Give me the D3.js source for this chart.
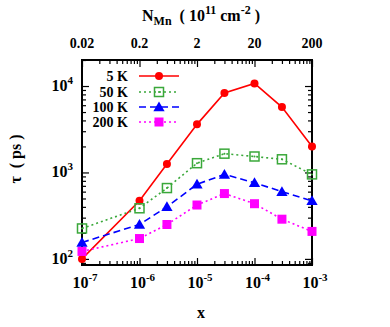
<!DOCTYPE html>
<html>
<head>
<meta charset="utf-8">
<script src="https://cdn.jsdelivr.net/npm/d3@7"></script>
<style>
  body { margin: 0; background: #fff; }
  text { font-family: "Liberation Serif", "DejaVu Serif", serif; font-weight: bold; }
</style>
</head>
<body>
<div class="chart"></div>
<script>
// data
var xValues = [1e-7, 1e-6, 3e-6, 1e-5, 3e-5, 1e-4, 3e-4, 1e-3];
var tau5K   = [100, 470, 1250, 3600, 8300, 10700, 5700, 2000];
var tau50K  = [225, 385, 660, 1280, 1650, 1530, 1420, 950];
var tau100K = [155, 250, 400, 730, 950, 760, 600, 470];
var tau200K = [122, 172, 250, 420, 570, 435, 288, 208];
var seriesNames = ["5 K", "50 K", "100 K", "200 K"];
var bottomTickExps = [-7, -6, -5, -4, -3];
var topTickLabels = ["0.02", "0.2", "2", "20", "200"];
var leftTickExps = [2, 3, 4];

var svgWidth = 390, svgHeight = 327;
var margin = { top: 60, right: 78, bottom: 62, left: 82 };
var width = svgWidth - margin.left - margin.right;
var height = svgHeight - margin.top - margin.bottom;

var svg = d3.select(".chart").append("svg")
  .attr("width", svgWidth)
  .attr("height", svgHeight);

var chartGroup = svg.append("g")
  .attr("transform", `translate(${margin.left}, ${margin.top})`);

var xScale = d3.scaleLog().domain([1e-7, 1e-3]).range([0, width]);
var yScale = d3.scaleLog().domain([85, 20000]).range([height, 0]);

// minor/major tick positions
var xMinor = [], yMinor = [];
for (var e = -7; e < -3; e++) for (var m = 2; m <= 9; m++) xMinor.push(m * Math.pow(10, e));
for (var e2 = 1; e2 <= 4; e2++) for (var m2 = 2; m2 <= 9; m2++) {
  var v = m2 * Math.pow(10, e2);
  if (v >= 85 && v <= 20000) yMinor.push(v);
}
var xMajor = bottomTickExps.map(d => Math.pow(10, d));
var yMajor = leftTickExps.map(d => Math.pow(10, d));

function tickAxis(axisFn, scale, values, size) {
  return axisFn(scale).tickValues(values).tickSize(size).tickSizeOuter(0).tickFormat("");
}

// bottom + top
[[d3.axisTop, height], [d3.axisBottom, 0]].forEach(function(a) {
  chartGroup.append("g").attr("class", "ticks")
    .attr("transform", `translate(0, ${a[1]})`)
    .call(tickAxis(a[0], xScale, xMajor, 7));
  chartGroup.append("g").attr("class", "ticks")
    .attr("transform", `translate(0, ${a[1]})`)
    .call(tickAxis(a[0], xScale, xMinor, 4));
});
// left + right
[[d3.axisRight, 0], [d3.axisLeft, width]].forEach(function(a) {
  chartGroup.append("g").attr("class", "ticks")
    .attr("transform", `translate(${a[1]}, 0)`)
    .call(tickAxis(a[0], yScale, yMajor, 7));
  chartGroup.append("g").attr("class", "ticks")
    .attr("transform", `translate(${a[1]}, 0)`)
    .call(tickAxis(a[0], yScale, yMinor, 4));
});
chartGroup.selectAll(".ticks .domain").remove();
chartGroup.selectAll(".ticks line").attr("stroke", "#000").attr("stroke-width", 1.2);

// frame
chartGroup.append("rect")
  .attr("width", width).attr("height", height)
  .attr("fill", "none").attr("stroke", "#000").attr("stroke-width", 2);

// bottom tick labels 10^n
bottomTickExps.forEach(function(ex) {
  var t = chartGroup.append("text")
    .attr("x", xScale(Math.pow(10, ex)) + 3)
    .attr("y", height + 23)
    .attr("text-anchor", "middle")
    .style("font-size", "16px");
  t.append("tspan").text("10");
  t.append("tspan").attr("dy", -7).style("font-size", "11px").text(ex);
});

// left tick labels
leftTickExps.forEach(function(ex) {
  var t = chartGroup.append("text")
    .attr("x", -9)
    .attr("y", yScale(Math.pow(10, ex)) + 5)
    .attr("text-anchor", "end")
    .style("font-size", "16px");
  t.append("tspan").text("10");
  t.append("tspan").attr("dy", -7).style("font-size", "11px").text(ex);
});

// top tick labels (N_Mn)
topTickLabels.forEach(function(lab, i) {
  chartGroup.append("text")
    .attr("x", xScale(xMajor[i]))
    .attr("y", -12)
    .attr("text-anchor", "middle")
    .style("font-size", "14px")
    .text(lab);
});

// top title
var title = svg.append("text")
  .attr("x", 201).attr("y", 21)
  .attr("text-anchor", "middle")
  .style("font-size", "16px");
title.append("tspan").text("N");
title.append("tspan").attr("dy", 4).style("font-size", "12px").text("Mn");
title.append("tspan").attr("dy", -4).text("\u00a0\u00a0(\u00a010");
title.append("tspan").attr("dy", -7).style("font-size", "12px").text("11");
title.append("tspan").attr("dy", 7).text("\u00a0cm");
title.append("tspan").attr("dy", -7).style("font-size", "12px").text("-2");
title.append("tspan").attr("dy", 7).text("\u00a0)");

// Y label
svg.append("text")
  .attr("transform", "rotate(-90)")
  .attr("x", -159).attr("y", 21)
  .attr("text-anchor", "middle")
  .style("font-size", "16px")
  .text("τ\u00a0\u00a0(\u00a0ps\u00a0)");

// X label
svg.append("text")
  .attr("x", 201).attr("y", 318)
  .attr("text-anchor", "middle")
  .style("font-size", "16px")
  .text("x");

// series
var series = [
  { name: seriesNames[0], values: tau5K,   color: "#ff0000", dash: null,   marker: "circle" },
  { name: seriesNames[1], values: tau50K,  color: "#3aa83a", dash: "2,3",  marker: "openSquare" },
  { name: seriesNames[2], values: tau100K, color: "#0000ff", dash: "7,4",  marker: "triangle" },
  { name: seriesNames[3], values: tau200K, color: "#ff00ff", dash: "2,3",  marker: "square" }
];

var valueline = d3.line()
  .x(d => xScale(d[0]))
  .y(d => yScale(d[1]));

function drawMarker(g, type, color, cx, cy) {
  if (type === "circle") {
    g.append("circle").attr("cx", cx).attr("cy", cy).attr("r", 4).attr("fill", color);
  } else if (type === "openSquare") {
    g.append("rect").attr("x", cx - 4.5).attr("y", cy - 4.5).attr("width", 9).attr("height", 9)
      .attr("fill", "none").attr("stroke", color).attr("stroke-width", 1.5);
    g.append("circle").attr("cx", cx).attr("cy", cy).attr("r", 1).attr("fill", color);
  } else if (type === "triangle") {
    g.append("path").attr("d", d3.symbol().type(d3.symbolTriangle).size(55)())
      .attr("transform", `translate(${cx}, ${cy + 1})`).attr("fill", color);
  } else {
    g.append("rect").attr("x", cx - 4.5).attr("y", cy - 4.5).attr("width", 9).attr("height", 9)
      .attr("fill", color);
  }
}

series.forEach(function(s) {
  var pts = xValues.map((x, i) => [x, s.values[i]]);
  chartGroup.append("path")
    .data([pts])
    .attr("d", valueline)
    .attr("fill", "none")
    .attr("stroke", s.color)
    .attr("stroke-width", 1.6)
    .attr("stroke-dasharray", s.dash);
  var mg = chartGroup.append("g");
  pts.forEach(function(p) {
    drawMarker(mg, s.marker, s.color, xScale(p[0]), yScale(p[1]));
  });
});

// legend
var legendY = [16, 32, 47, 62];
series.forEach(function(s, i) {
  var ly = legendY[i];
  chartGroup.append("text")
    .attr("x", 46).attr("y", ly + 5)
    .attr("text-anchor", "end")
    .style("font-size", "14px")
    .text(s.name);
  chartGroup.append("line")
    .attr("x1", 57).attr("x2", 97).attr("y1", ly).attr("y2", ly)
    .attr("stroke", s.color).attr("stroke-width", 1.6)
    .attr("stroke-dasharray", s.dash);
  var lg = chartGroup.append("g");
  drawMarker(lg, s.marker, s.color, 77, ly);
});
</script>
</body>
</html>
